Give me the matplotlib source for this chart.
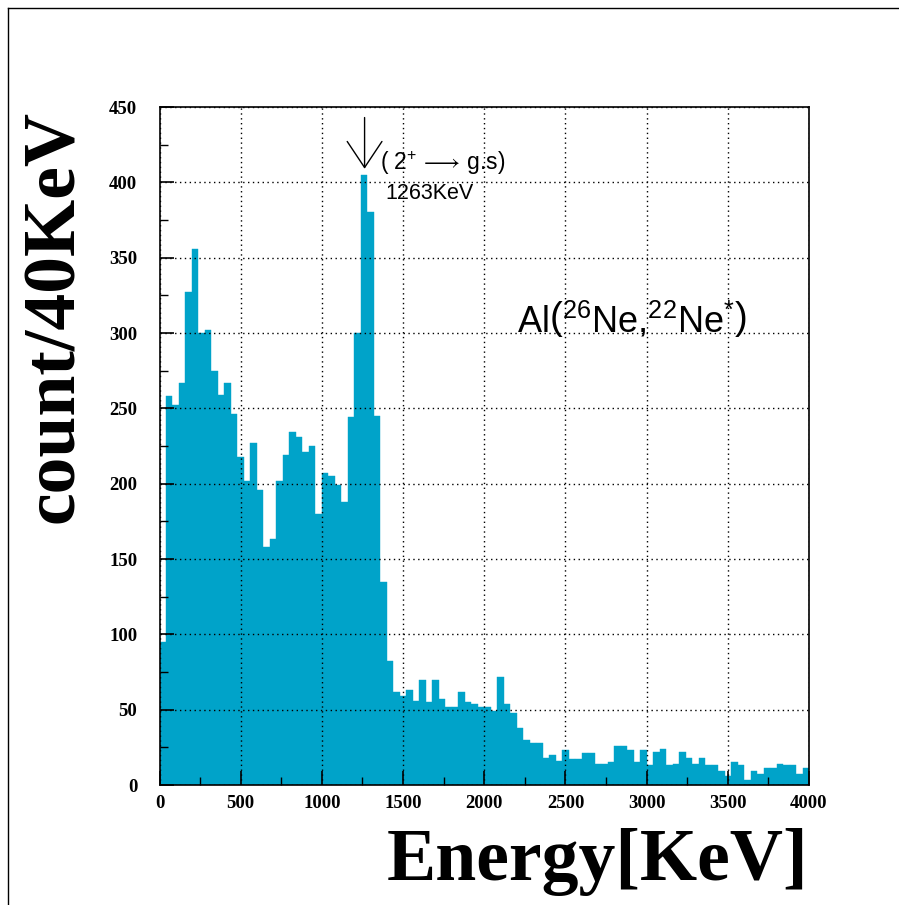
import numpy as np
import matplotlib
matplotlib.use("Agg")
import matplotlib.pyplot as plt
from matplotlib.lines import Line2D
from matplotlib.font_manager import FontProperties

plt.rcParams['mathtext.fontset'] = 'custom'
plt.rcParams['mathtext.rm'] = 'Liberation Sans'
plt.rcParams['mathtext.it'] = 'Liberation Sans:italic'
plt.rcParams['mathtext.bf'] = 'Liberation Sans:bold'

# ---- data: counts per 40 keV bin, 0..4000 keV ----
bin_width = 40
counts = [
    95, 258, 252, 267, 327, 356, 300, 302, 275, 259,
    267, 246, 218, 202, 227, 196, 158, 163, 202, 219,
    234, 231, 221, 225, 180, 207, 205, 199, 188, 244,
    300, 405, 380, 245, 135, 82, 62, 59, 63, 56,
    70, 55, 70, 57, 52, 52, 62, 55, 54, 52,
    52, 49, 72, 54, 48, 38, 30, 28, 28, 18,
    20, 16, 23, 17, 17, 21, 21, 14, 14, 15,
    26, 26, 23, 15, 23, 13, 22, 24, 13, 14,
    22, 18, 14, 18, 13, 13, 9, 6, 15, 13,
    3, 9, 7, 11, 11, 14, 13, 13, 7, 11,
]
edges = np.arange(len(counts)) * bin_width

x_ticks = [0, 500, 1000, 1500, 2000, 2500, 3000, 3500, 4000]
y_ticks = [0, 50, 100, 150, 200, 250, 300, 350, 400, 450]

peak_energy = 1263
reaction_label = r'Al$\left(^{26}\mathrm{Ne}{,}^{22}\mathrm{Ne}^{*}\right)$'
transition_label = r'( $2^{+}\,\longrightarrow\,$g.s)'
peak_label = '1263KeV'

fig = plt.figure(figsize=(8.99, 9.05), dpi=100)
ax = fig.add_axes([159.5 / 899, 1 - 785 / 905, 649.5 / 899, 678 / 905])

ax.bar(edges, counts, width=bin_width, align='edge', color='#00A3C9',
       edgecolor='#00A3C9', linewidth=0.3, zorder=1)

ax.set_xlim(0, 4000)
ax.set_ylim(0, 450)
ax.set_xticks(x_ticks)
ax.set_yticks(y_ticks)
ax.set_xticks(np.arange(250, 4000, 500), minor=True)
ax.set_yticks(np.arange(25, 450, 50), minor=True)
ax.grid(True, which='major', linestyle=(0, (1, 2.5)), color='black',
        linewidth=1.0, zorder=3)
ax.set_axisbelow(False)

tick_font = FontProperties(family='Liberation Serif', weight='bold', size=13.5)
ax.tick_params(which='major', direction='in', length=10, width=1.2,
               top=False, right=False)
ax.tick_params(which='minor', direction='in', length=6, width=1.0,
               top=False, right=False)
ax.tick_params(axis='y', which='major', pad=16)
ax.tick_params(axis='x', which='major', pad=7)
for lab in ax.get_xticklabels() + ax.get_yticklabels():
    lab.set_fontproperties(tick_font)

for sp in ax.spines.values():
    sp.set_linewidth(1.2)
    sp.set_zorder(4)

# axis titles
fig.text(55 / 899, 1 - 110 / 905, 'count/40KeV', rotation=90,
         ha='center', va='top', family='Liberation Serif', weight='bold',
         fontsize=53)
fig.text(808 / 899, 1 - 880 / 905, 'Energy[KeV]', ha='right',
         va='baseline', family='Liberation Serif', weight='bold',
         fontsize=53)

# annotations
ax.annotate('', xy=(peak_energy, 409), xytext=(peak_energy, 443),
            arrowprops=dict(arrowstyle='->,head_length=0.75,head_width=0.5',
                            lw=1.0, color='black', mutation_scale=25,
                            shrinkA=0, shrinkB=0), zorder=5)
ax.text(1357, 408, transition_label, ha='left', va='baseline',
        family='Liberation Sans', fontsize=16.5, zorder=5)
ax.text(1393, 389, peak_label, ha='left', va='baseline',
        family='Liberation Sans', fontsize=15.5, zorder=5)
ax.text(2200, 300, reaction_label, ha='left', va='baseline',
        family='Liberation Sans', fontsize=26, zorder=5)

# outer frame (left and top edges visible)
fig.add_artist(Line2D([8 / 899, 8 / 899], [0, 1 - 8 / 905],
                      transform=fig.transFigure, color='black', lw=1))
fig.add_artist(Line2D([8 / 899, 1], [1 - 8 / 905, 1 - 8 / 905],
                      transform=fig.transFigure, color='black', lw=1))

fig.savefig('out.png', dpi=100)
